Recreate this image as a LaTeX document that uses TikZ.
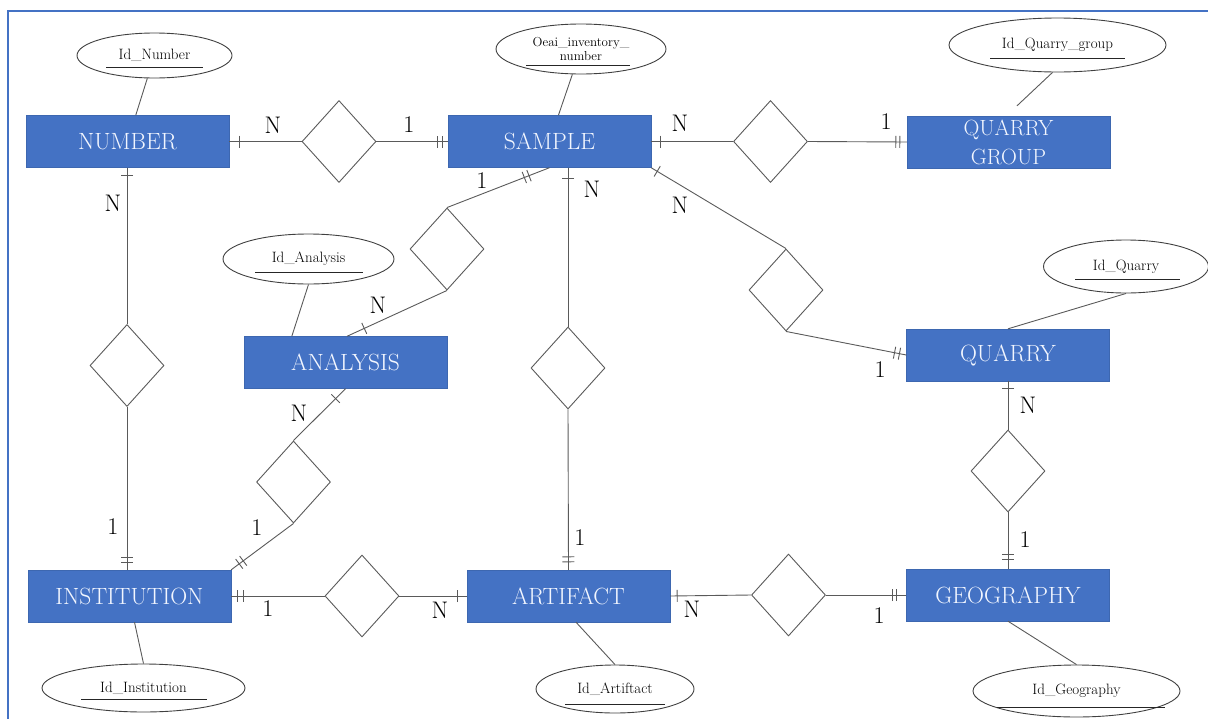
\documentclass[tikz,border=0pt]{standalone}
\usepackage{fontspec}
\usetikzlibrary{shapes.geometric,calc}
\definecolor{entblue}{HTML}{4472C4}
\definecolor{enttext}{HTML}{F2F6FF}
\definecolor{linegray}{HTML}{5A5A5A}
\definecolor{ellgray}{HTML}{404040}
\tikzset{
  entity/.style={rectangle,fill=entblue,draw=entblue!90!black,line width=0.4pt,minimum width=203pt,minimum height=52pt,inner sep=0pt,text=enttext,font=\fontsize{23.5}{28}\selectfont,align=center},
  rel/.style={shape=diamond,draw=linegray,line width=0.9pt,fill=white,minimum width=74pt,minimum height=82pt,inner sep=0pt},
  attr/.style={shape=ellipse,draw=ellgray,line width=0.9pt,inner sep=0pt,font=\fontsize{15}{17}\selectfont,align=center},
  conn/.style={draw=linegray,line width=0.9pt},
  ul/.style={draw=black!85,line width=0.9pt},
  card/.style={font=\fontsize{24}{26}\selectfont,inner sep=0pt,text=black},
  frameline/.style={draw=entblue,line width=2pt}
}
\newcommand{\onebar}[3]{\draw[conn] ($(#1)!#3!(#2)!6pt!90:(#2)$) -- ($(#1)!#3!(#2)!6pt!-90:(#2)$);}
\newcommand{\twobar}[4]{\onebar{#1}{#2}{#3}\onebar{#1}{#2}{#4}}
\begin{document}
\begin{tikzpicture}[x=1pt,y=-1pt]
\useasboundingbox (0,0) rectangle (1208,718);
\draw[frameline] (8,720) -- (8,11) -- (1210,11);

% entities
\node[entity] (number) at (127.5,141.5) {NUMBER};
\node[entity] (sample) at (549.5,141.5) {SAMPLE};
\node[entity,font=\fontsize{22}{29}\selectfont] (qgroup) at (1008.5,142) {QUARRY\\GROUP};
\node[entity] (analysis) at (345.5,362.5) {ANALYSIS};
\node[entity] (quarry) at (1008,355) {QUARRY};
\node[entity] (geography) at (1008,595) {GEOGRAPHY};
\node[entity] (institution) at (129.5,596) {INSTITUTION};
\node[entity] (artifact) at (568.5,596) {ARTIFACT};

% relationships
\node[rel] (r1) at (339,141.5) {};
\node[rel] (r2) at (770.5,141.5) {};
\node[rel] (r3) at (127,365.5) {};
\node[rel] (r4) at (447,249) {};
\node[rel] (r5) at (293.5,482) {};
\node[rel] (r6) at (568,368) {};
\node[rel] (r7) at (786,290) {};
\node[rel] (r8) at (1008,471) {};
\node[rel] (r9) at (362,596) {};
\node[rel] (r10) at (788.5,595) {};

% attributes
\node[attr,minimum width=155pt,minimum height=45pt] (a1) at (154.5,55.5) {Id\_Number};
\node[attr,minimum width=170pt,minimum height=50pt,font=\fontsize{13}{14}\selectfont] (a2) at (581,49) {Oeai\_inventory\_\\number};
\node[attr,minimum width=217pt,minimum height=54pt] (a3) at (1057.5,45) {Id\_Quarry\_group};
\node[attr,minimum width=171pt,minimum height=50pt] (a4) at (308.5,259) {Id\_Analysis};
\node[attr,minimum width=165pt,minimum height=53pt] (a5) at (1126,266.5) {Id\_Quarry};
\node[attr,minimum width=203pt,minimum height=48pt] (a6) at (143.5,688) {Id\_Institution};
\node[attr,minimum width=158pt,minimum height=48pt] (a7) at (615,689) {Id\_Artiftact};
\node[attr,minimum width=207pt,minimum height=52pt] (a8) at (1076.5,691) {Id\_Geography};

% underlines
\draw[ul] ($(a1.center)+(-48.5,11.5)$) -- ($(a1.center)+(48.5,11.5)$);
\draw[ul] ($(a2.center)+(-55,16)$) -- ($(a2.center)+(49,16)$);
\draw[ul] ($(a3.center)+(-67.5,13)$) -- ($(a3.center)+(67.5,13)$);
\draw[ul] ($(a4.center)+(-53.5,13)$) -- ($(a4.center)+(54.5,13)$);
\draw[ul] ($(a5.center)+(-51,12.5)$) -- ($(a5.center)+(54,12.5)$);
\draw[ul] ($(a6.center)+(-62.5,11)$) -- ($(a6.center)+(63.5,11)$);
\draw[ul] ($(a7.center)+(-50,15)$) -- ($(a7.center)+(50,15)$);
\draw[ul] ($(a8.center)+(-79.5,16)$) -- ($(a8.center)+(88.5,16)$);

% attribute links
\draw[conn] (a1) -- (number);
\draw[conn] (a2) -- (sample);
\draw[conn] ($(a3.south)+(-5,0)$) -- ($(qgroup.north)+(8.5,-10)$);
\draw[conn] (a4.south) -- ($(analysis.north west)+(48,0)$);
\draw[conn] (a5.south) -- (quarry.north);
\draw[conn] ($(institution.south)+(5,0)$) -- (a6.north);
\draw[conn] ($(artifact.south)+(7.5,0)$) -- (a7.north);
\draw[conn] (geography.south) -- (a8.north);

% relationship links
% 1 number - sample
\draw[conn] (number.east) -- (r1.west);
\draw[conn] (r1.east) -- (sample.west);
\onebar{number.east}{r1.west}{10pt}
\twobar{sample.west}{r1.east}{5pt}{10pt}
% 2 sample - quarry group
\draw[conn] (sample.east) -- (r2.west);
\draw[conn] (r2.east) -- (qgroup.west);
\onebar{sample.east}{r2.west}{9pt}
\twobar{qgroup.west}{r2.east}{7pt}{11pt}
% 3 number - institution
\coordinate (n3) at (r3.north |- number.south);
\coordinate (i3) at (r3.south |- institution.north);
\draw[conn] (n3) -- (r3.north);
\draw[conn] (r3.south) -- (i3);
\onebar{n3}{r3.north}{8pt}
\twobar{i3}{r3.south}{7pt}{12pt}
% 4 sample - analysis
\coordinate (an4) at ($(analysis.north)+(1.5,0)$);
\draw[conn] (sample.south) -- (r4.north);
\draw[conn] (r4.south) -- (an4);
\twobar{sample.south}{r4.north}{22pt}{27pt}
\onebar{an4}{r4.south}{19pt}
% 5 analysis - institution
\draw[conn] (analysis.south) -- (r5.north);
\draw[conn] (r5.south) -- (institution.north east);
\onebar{analysis.south}{r5.north}{14pt}
\twobar{institution.north east}{r5.south}{10pt}{15pt}
% 6 sample - artifact
\coordinate (s6) at (r6.north |- sample.south);
\draw[conn] (s6) -- (r6.north);
\draw[conn] (r6.south) -- (artifact.north);
\onebar{s6}{r6.north}{11pt}
\twobar{artifact.north}{r6.south}{8pt}{13pt}
% 7 sample - quarry
\draw[conn] (sample.south east) -- (r7.north);
\draw[conn] (r7.south) -- (quarry.west);
\onebar{sample.south east}{r7.north}{7pt}
\twobar{quarry.west}{r7.south}{7pt}{12pt}
% 8 quarry - geography
\draw[conn] (quarry.south) -- (r8.north);
\draw[conn] (r8.south) -- (geography.north);
\onebar{quarry.south}{r8.north}{7pt}
\twobar{geography.north}{r8.south}{9pt}{14pt}
% 9 institution - artifact
\draw[conn] (institution.east) -- (r9.west);
\draw[conn] (r9.east) -- (artifact.west);
\twobar{institution.east}{r9.west}{6pt}{12pt}
\onebar{artifact.west}{r9.east}{9pt}
% 10 artifact - geography
\draw[conn] (artifact.east) -- (r10.west);
\draw[conn] (r10.east) -- (geography.west);
\onebar{artifact.east}{r10.west}{7pt}
\twobar{geography.west}{r10.east}{10pt}{14pt}

% cardinality labels
\node[card] (c1a) at (273,125) {N};
\node[card] (c1b) at (409,125) {1};
\node[card] (c2a) at (680,123) {N};
\node[card] (c2b) at (886,122) {1};
\node[card] (c3a) at (113,203) {N};
\node[card] (c3b) at (113,527) {1};
\node[card] (c4a) at (482,181) {1};
\node[card] (c4b) at (378,305) {N};
\node[card] (c5a) at (299,413) {N};
\node[card] (c5b) at (257,528) {1};
\node[card] (c6a) at (592,189) {N};
\node[card] (c6b) at (580,538) {1};
\node[card] (c7a) at (680,205) {N};
\node[card] (c7b) at (880,370) {1};
\node[card] (c8a) at (1028,405) {N};
\node[card] (c8b) at (1025,540) {1};
\node[card] (c9a) at (268,609) {1};
\node[card] (c9b) at (440,610) {N};
\node[card] (c10a) at (692,609) {N};
\node[card] (c10b) at (879,616) {1};
\end{tikzpicture}
\end{document}
